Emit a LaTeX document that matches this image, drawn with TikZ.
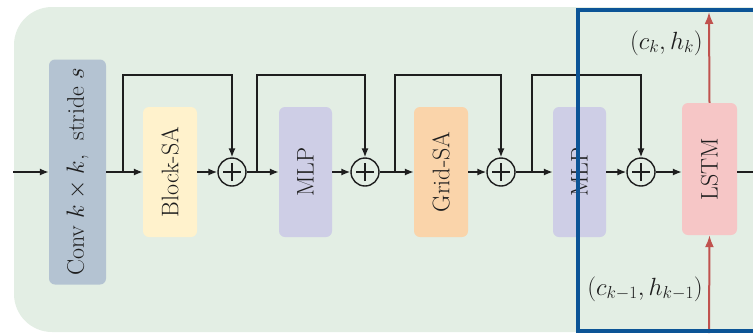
\documentclass[tikz,border=0pt]{standalone}
\usetikzlibrary{arrows.meta}
\definecolor{bgc}{RGB}{227,238,228}
\definecolor{convc}{RGB}{180,195,210}
\definecolor{bsac}{RGB}{255,242,204}
\definecolor{mlpc}{RGB}{206,206,230}
\definecolor{gsac}{RGB}{250,212,170}
\definecolor{lstmc}{RGB}{246,198,198}
\definecolor{redc}{RGB}{192,82,78}
\definecolor{bluec}{RGB}{12,84,150}
\definecolor{linec}{RGB}{30,30,30}
\tikzset{
  blk/.style={rounded corners=6pt, minimum width=54pt, minimum height=130pt, inner sep=0pt,
    font=\fontsize{24}{28}\selectfont, text=linec},
  sumnode/.style={circle, draw=linec, line width=1.4pt, minimum size=28pt, inner sep=0pt,
    path picture={\draw[linec, line width=1.4pt] ([xshift=-9pt]path picture bounding box.center) -- ([xshift=9pt]path picture bounding box.center);
      \draw[linec, line width=1.4pt] ([yshift=-9pt]path picture bounding box.center) -- ([yshift=9pt]path picture bounding box.center);}},
  conn/.style={draw=linec, line width=1.4pt, -{Latex[length=9pt,width=7pt]}},
  plain/.style={draw=linec, line width=1.4pt},
  redarr/.style={draw=redc, line width=2pt, -{Latex[length=12pt,width=9pt]}},
  lbl/.style={font=\fontsize{24}{28}\selectfont, text=linec, inner sep=0pt}
}
\begin{document}
\begin{tikzpicture}[x=1pt,y=-1pt]
\useasboundingbox (0,0) rectangle (753,333);
\clip (0,0) rectangle (753,333);
\fill[bgc, rounded corners=38pt] (14,7) rectangle (800,332);

\node[blk, fill=convc, minimum width=57pt, minimum height=225pt] (conv) at (77.5,172) {\rotatebox{90}{Conv $k\times k$,~ stride $s$}};
\node[blk, fill=bsac] (bsa) at (170,172) {\rotatebox{90}{Block-SA}};
\node[sumnode] (c1) at (232,172) {};
\node[blk, fill=mlpc, minimum width=53pt] (mlp1) at (305.5,172) {\rotatebox{90}{MLP}};
\node[sumnode] (c2) at (365,172) {};
\node[blk, fill=gsac] (gsa) at (441,172) {\rotatebox{90}{Grid-SA}};
\node[sumnode] (c3) at (501,172) {};
\node[blk, fill=mlpc, minimum width=53pt] (mlp2) at (579.5,172) {\rotatebox{90}{MLP}};
\node[sumnode] (c4) at (641,172) {};
\node[blk, fill=lstmc, minimum width=55pt, minimum height=132pt] (lstm) at (709.5,169) {\rotatebox{90}{LSTM}};

\coordinate (in) at (13,172);
\coordinate (out) at (753,172);
\coordinate (b1) at (123,172);
\coordinate (b2) at (257,172);
\coordinate (b3) at (395,172);
\coordinate (b4) at (532,172);
\coordinate (top) at (709,12);
\coordinate (bot) at (709,333);

\draw[conn] (in) -- (conv.west);
\draw[conn] (conv.east) -- (bsa.west);
\draw[conn] (bsa.east) -- (c1.west);
\draw[conn] (c1.east) -- (mlp1.west);
\draw[conn] (mlp1.east) -- (c2.west);
\draw[conn] (c2.east) -- (gsa.west);
\draw[conn] (gsa.east) -- (c3.west);
\draw[conn] (c3.east) -- (mlp2.west);
\draw[conn] (mlp2.east) -- (c4.west);
\draw[conn] (c4.east) -- (c4.east -| lstm.west);
\draw[plain] (lstm.east |- c4) -- (out);

\draw[conn] (b1) |- (232,75) -- (c1.north);
\draw[conn] (b2) |- (365,75) -- (c2.north);
\draw[conn] (b3) |- (501,75) -- (c3.north);
\draw[conn] (b4) |- (641,75) -- (c4.north);

\draw[redarr] (lstm.north) -- (top);
\draw[redarr] (bot) -- (lstm.south);

\node[lbl, anchor=east] (lk) at (703,43) {$(c_k,h_k)$};
\node[lbl, anchor=east] (lk1) at (703,289) {$(c_{k-1},h_{k-1})$};

\draw[bluec, line width=4pt] (578,10) rectangle (790,331);
\end{tikzpicture}
\end{document}
